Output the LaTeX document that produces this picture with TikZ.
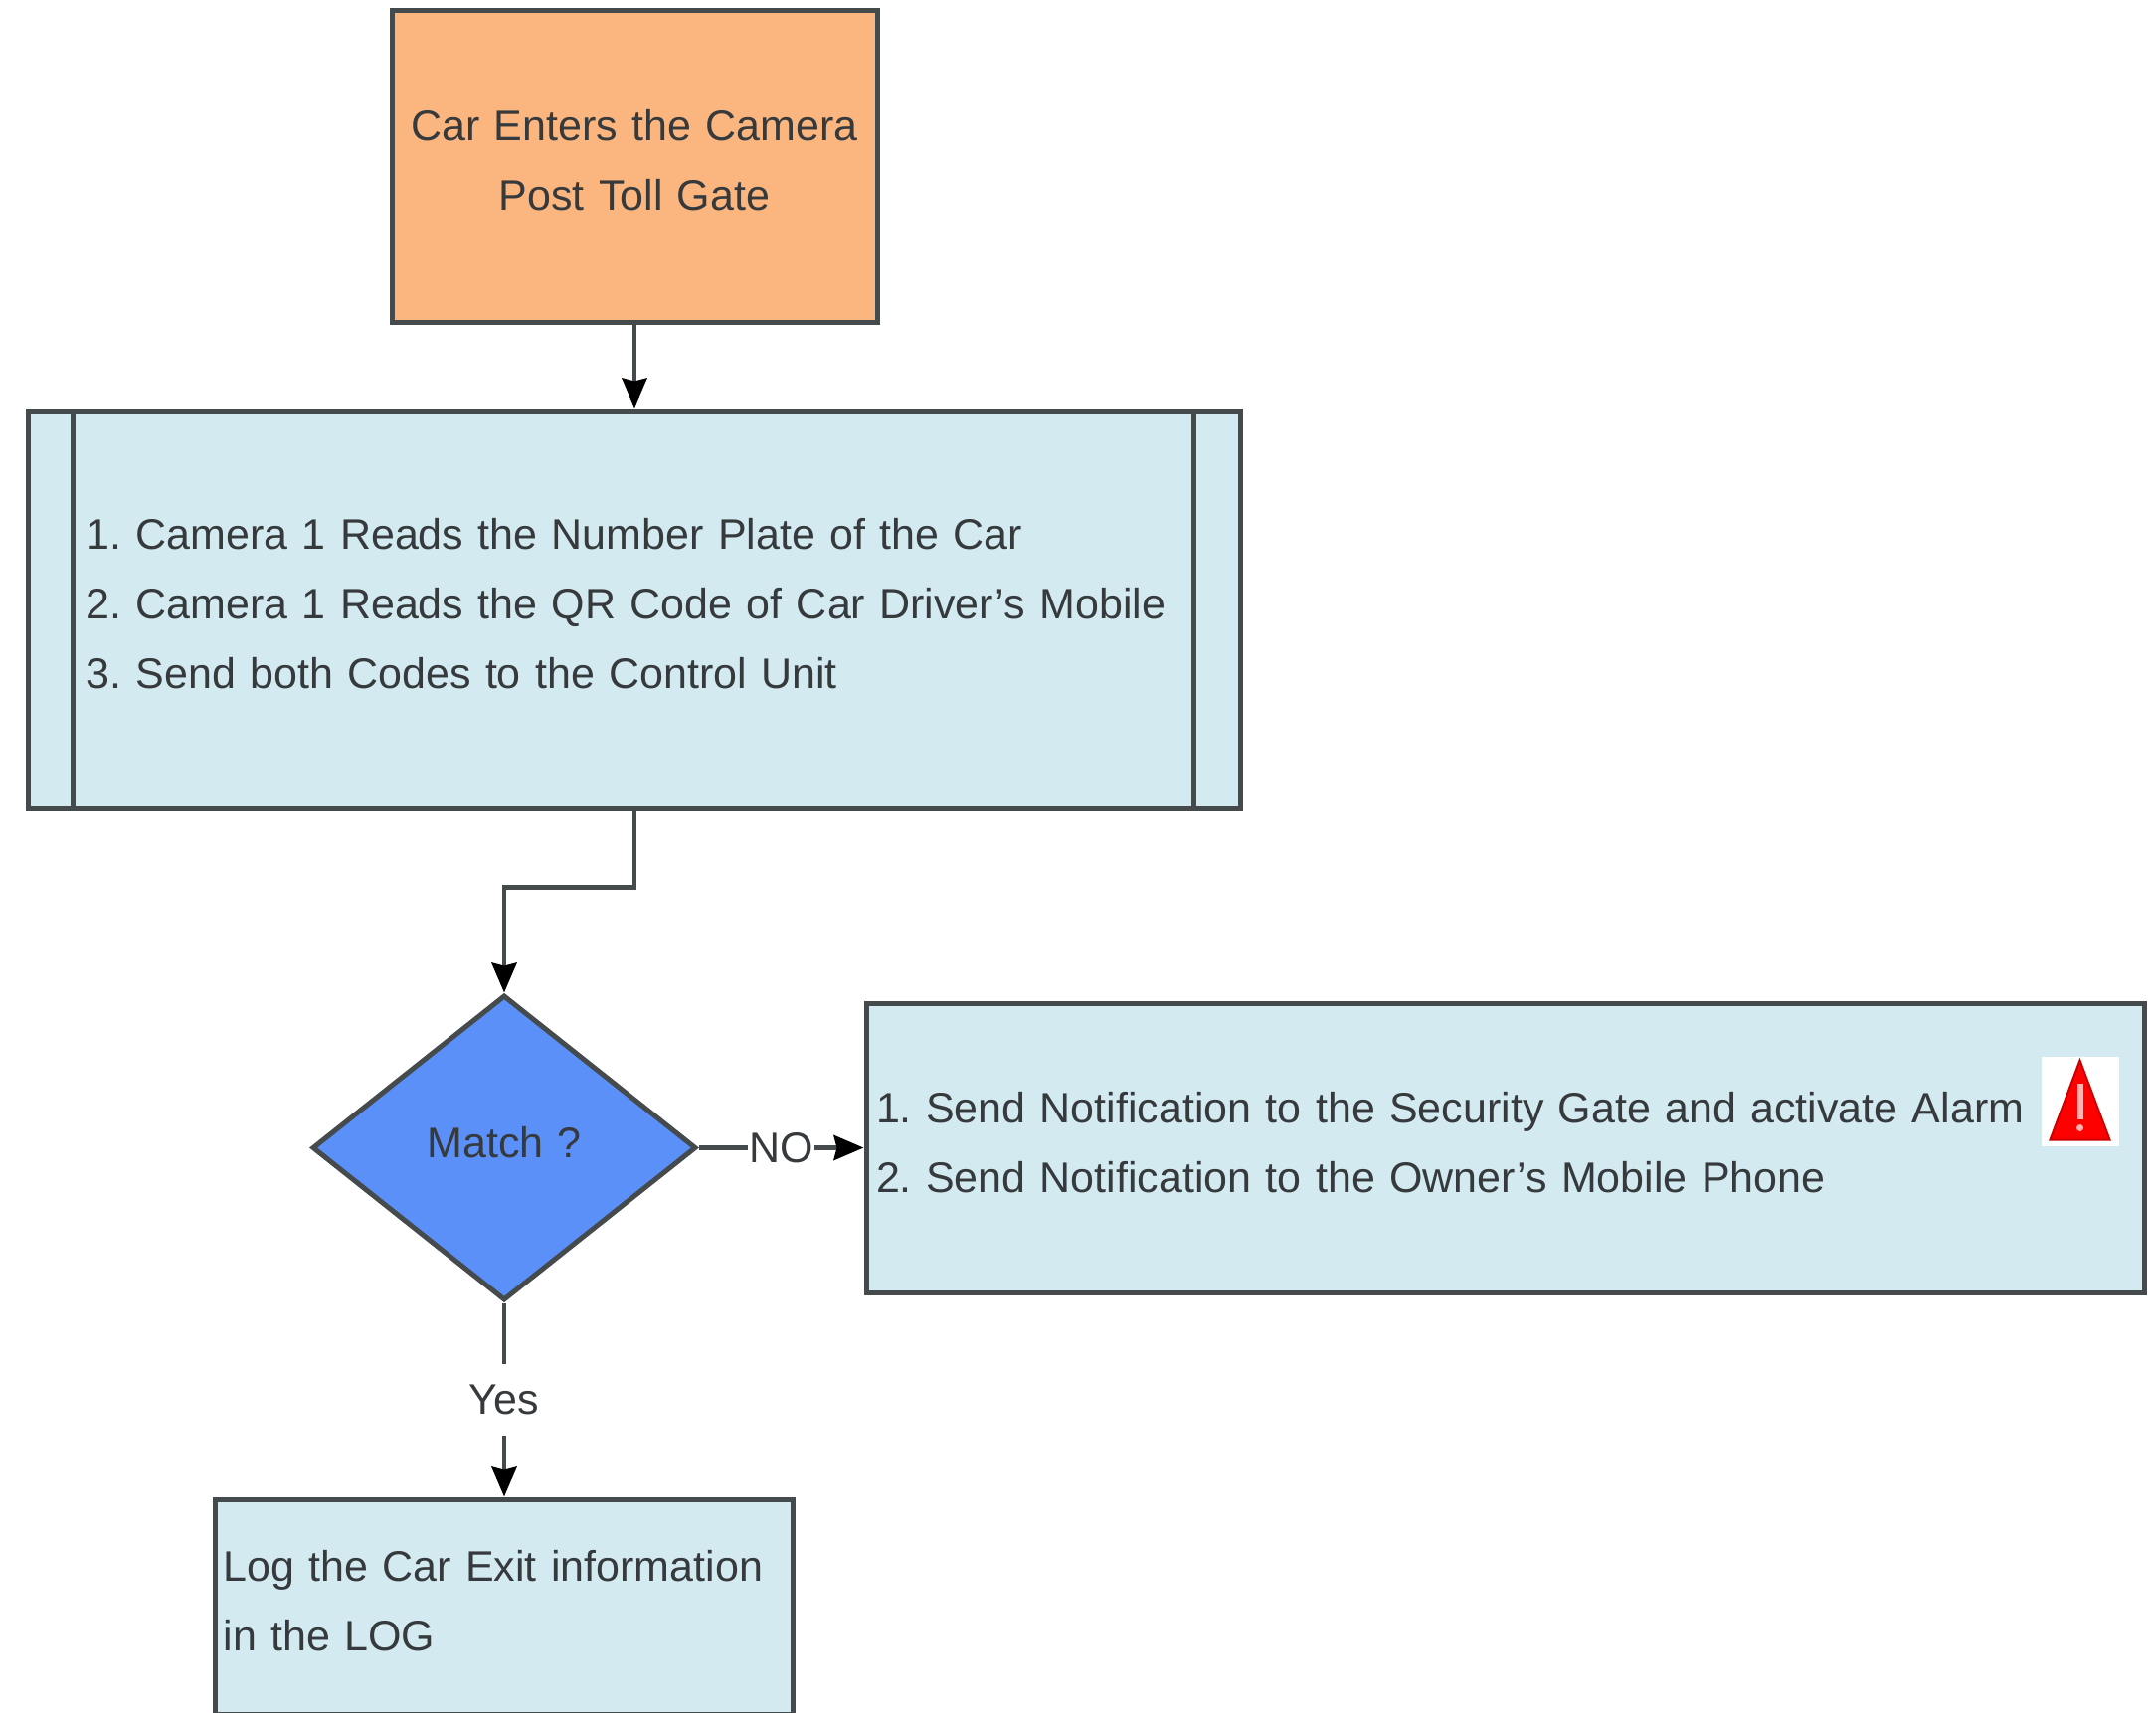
\documentclass[tikz,border=0pt]{standalone}
\usepackage{fontspec}
\setmainfont{Liberation Sans}
\usetikzlibrary{arrows.meta,positioning,shapes.geometric}
\definecolor{gateorange}{HTML}{FBB57E}
\definecolor{boxblue}{HTML}{D2EAF0}
\definecolor{matchblue}{HTML}{5B90F8}
\definecolor{edgegrey}{HTML}{454A4C}
\definecolor{textgrey}{HTML}{363A3C}
\tikzset{
    flowbox/.style={rectangle,draw=edgegrey,line width=5pt,text=textgrey,inner sep=0pt,font=\fontsize{43}{70}\selectfont,execute at end node={\par\vspace{11pt}}},
    gatebox/.style={flowbox,fill=gateorange,align=center,text width=470pt,minimum width=488pt,minimum height=314pt},
    stepbox/.style={flowbox,fill=boxblue,align=left},
    matchbox/.style={flowbox,diamond,aspect=1.257,fill=matchblue,align=center,text width=200pt,minimum width=386pt,minimum height=307pt},
    edgelabel/.style={fill=white,text=textgrey,inner sep=1pt,minimum height=72pt,font=\fontsize{43}{60}\selectfont},
    pre/.style={-{Stealth[length=30pt,width=25pt,inset=3pt,black]},line width=4.5pt,draw=edgegrey}
}
\frenchspacing
\begin{document}
\begin{tikzpicture}[x=1pt,y=1pt]
    \clip (0,0) rectangle (2168,-1722);
    \node[gatebox] (gate) at (638,-167) {Car Enters the Camera\\Post Toll Gate};

    \node[stepbox] (camera) [minimum width=1219pt,minimum height=400pt,text width=1103pt,below=84pt of gate] {
        1. Camera 1 Reads the Number Plate of the Car\\
        2. Camera 1 Reads the QR Code of Car Driver's Mobile\\
        3. Send both Codes to the Control Unit};
    \draw[edgegrey,line width=5pt] ([xshift=47pt]camera.north west) -- ([xshift=47pt]camera.south west);
    \draw[edgegrey,line width=5pt] ([xshift=-50pt]camera.north east) -- ([xshift=-50pt]camera.south east);

    \node[matchbox] (match) [below=183pt of camera,xshift=-131pt] {Match ?};

    \node[stepbox] (alarm) [minimum width=1285pt,minimum height=291pt,text width=1265pt,right=166pt of match] {
        1. Send Notification to the Security Gate and activate Alarm\\
        2. Send Notification to the Owner's Mobile Phone};
    \node[fill=white,minimum width=78pt,minimum height=90pt,inner sep=0pt] (alarm icon) at ([xshift=-67pt,yshift=47pt]alarm.east) {};
    \fill[red,draw=red!80!black,line width=2pt] ([yshift=41pt]alarm icon.center) -- ([xshift=30pt,yshift=-39pt]alarm icon.center) -- ([xshift=-30pt,yshift=-39pt]alarm icon.center) -- cycle;
    \draw[white!70!red,line width=6pt] ([yshift=18pt]alarm icon.center) -- ([yshift=-18pt]alarm icon.center);
    \fill[white!70!red] ([yshift=-27pt]alarm icon.center) circle (3.5pt);

    \node[stepbox] (log) [minimum width=581pt,minimum height=216pt,text width=565pt,below=195pt of match] {
        Log the Car Exit information\\
        in the LOG};

    \coordinate (elbow) at ([yshift=-77pt]camera.south);

    \draw[pre] (gate) -- (camera);
    \draw[pre] (camera.south) -- (elbow) -| (match.north);
    \draw[pre] (match) -- node[edgelabel] (no label) {NO} (alarm);
    \draw[pre] (match) -- node[edgelabel] (yes label) {Yes} (log);
\end{tikzpicture}
\end{document}
